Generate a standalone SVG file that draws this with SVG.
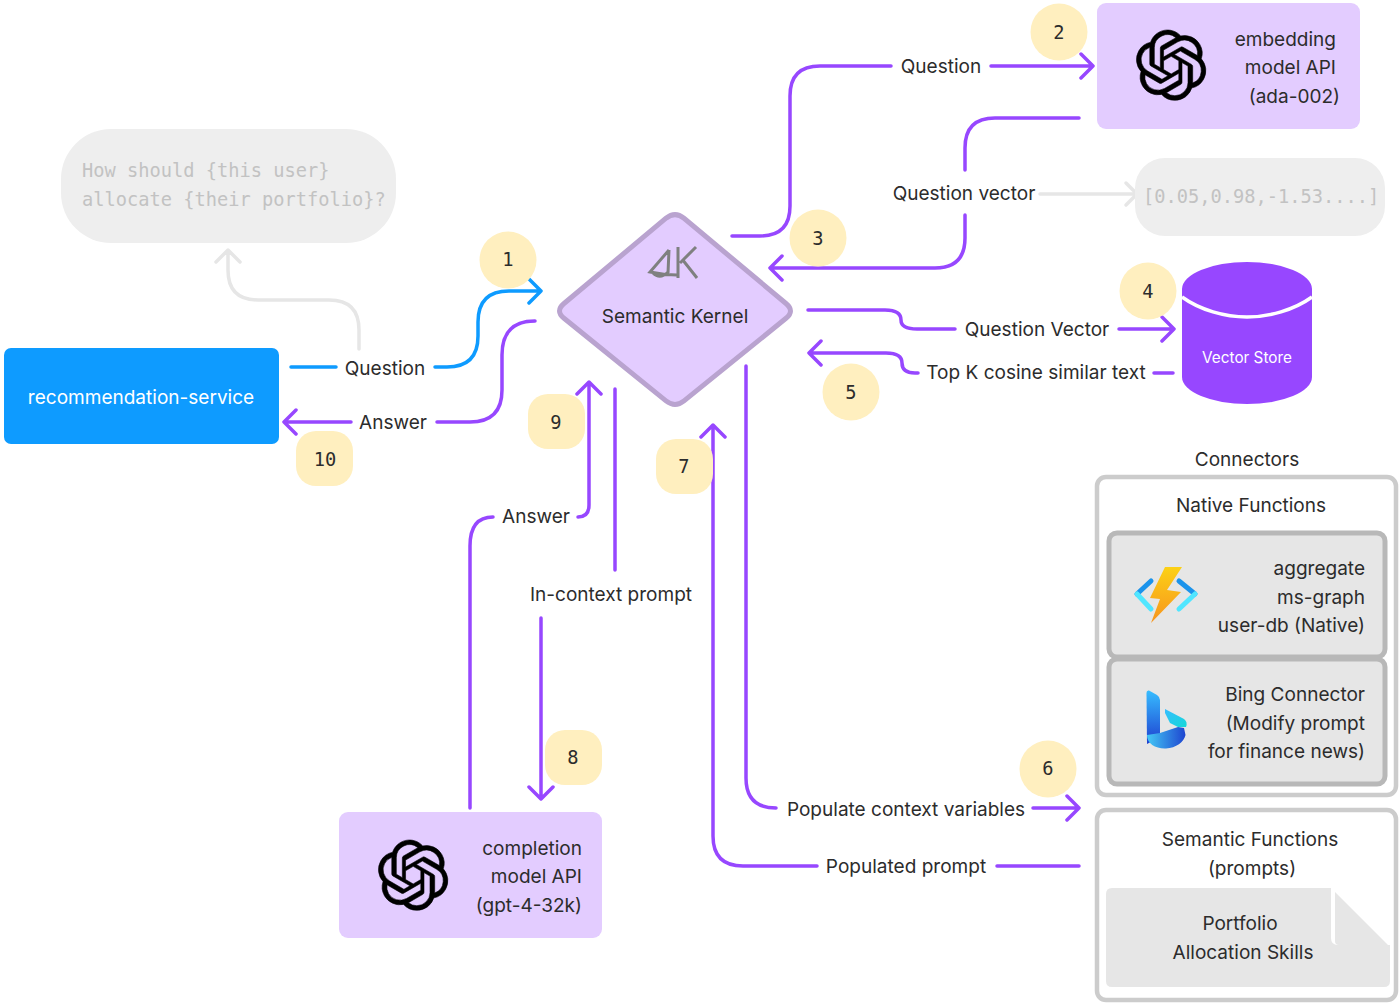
<svg xmlns="http://www.w3.org/2000/svg" width="1400" height="1004" viewBox="0 0 1400 1004">
<style>
text{font-family:Inter,"Noto Sans","Liberation Sans",sans-serif;font-size:19.05px;fill:#2c2c2c}
.m{font-family:"DejaVu Sans Mono","Liberation Mono",monospace;font-size:18.7px}
.g{fill:#c2c2c2}
.e{text-anchor:end}.c{text-anchor:middle}
.p,.b,.y{fill:none;stroke-width:3.5;stroke-linecap:round;stroke-linejoin:round}
.p{stroke:#9747ff}.b{stroke:#0e9bff}.y{stroke:#e6e6e6}
.api{fill:#e3ccff}.bd{fill:#ffefbf}
.o{fill:#fff;stroke:#ccc;stroke-width:4.5}
.i{fill:#e6e6e6;stroke:#b8b8b8;stroke-width:5}
.oai{stroke:#000;stroke-width:.2}
</style>
<defs>
<path id="oa" class="oai" transform="scale(2.93)" d="M22.2819 9.8211a5.9847 5.9847 0 0 0-.5157-4.9108 6.0462 6.0462 0 0 0-6.5098-2.9A6.0651 6.0651 0 0 0 4.9807 4.1818a5.9847 5.9847 0 0 0-3.9977 2.9 6.0462 6.0462 0 0 0 .7427 7.0966 5.98 5.98 0 0 0 .511 4.9107 6.051 6.051 0 0 0 6.5146 2.9001A5.9847 5.9847 0 0 0 13.2599 24a6.0557 6.0557 0 0 0 5.7718-4.2058 5.9894 5.9894 0 0 0 3.9977-2.9001 6.0557 6.0557 0 0 0-.7475-7.0729zm-9.022 12.6081a4.4755 4.4755 0 0 1-2.8764-1.0408l.1419-.0804 4.7783-2.7582a.7948.7948 0 0 0 .3927-.6813v-6.7369l2.02 1.1686a.071.071 0 0 1 .038.052v5.5826a4.504 4.504 0 0 1-4.4945 4.4944zm-9.6607-4.1254a4.4708 4.4708 0 0 1-.5346-3.0137l.142.0852 4.783 2.7582a.7712.7712 0 0 0 .7806 0l5.8428-3.3685v2.3324a.0804.0804 0 0 1-.0332.0615L9.74 19.9502a4.4992 4.4992 0 0 1-6.1408-1.6464zM2.3408 7.8956a4.485 4.485 0 0 1 2.3655-1.9728V11.6a.7664.7664 0 0 0 .3879.6765l5.8144 3.3543-2.0201 1.1685a.0757.0757 0 0 1-.071 0l-4.8303-2.7865A4.504 4.504 0 0 1 2.3408 7.872zm16.5963 3.8558L13.1038 8.364 15.1192 7.2a.0757.0757 0 0 1 .071 0l4.8303 2.7913a4.4944 4.4944 0 0 1-.6765 8.1042v-5.6772a.79.79 0 0 0-.407-.667zm2.0107-3.0231l-.142-.0852-4.7735-2.7818a.7759.7759 0 0 0-.7854 0L9.409 9.2297V6.8974a.0662.0662 0 0 1 .0284-.0615l4.8303-2.7866a4.4992 4.4992 0 0 1 6.6802 4.66zM8.3065 12.863l-2.02-1.1638a.0804.0804 0 0 1-.038-.0567V6.0742a4.4992 4.4992 0 0 1 7.3757-3.4537l-.142.0805L8.704 5.459a.7948.7948 0 0 0-.3927.6813zm1.0976-2.3654l2.602-1.4998 2.6069 1.4998v2.9994l-2.5974 1.4997-2.6067-1.4997Z"/>
<linearGradient id="bolt" x1="0" y1="0" x2="0" y2="1"><stop offset="0" stop-color="#fcd116"/><stop offset="1" stop-color="#f7941d"/></linearGradient>
<linearGradient id="bing1" x1="0" y1="0" x2="0" y2="1"><stop offset="0" stop-color="#37bdff"/><stop offset="1" stop-color="#1e3fd0"/></linearGradient>
<linearGradient id="bing2" x1="0" y1="0" x2="1" y2="0"><stop offset="0" stop-color="#44c8f5"/><stop offset="1" stop-color="#1e45d0"/></linearGradient>
<linearGradient id="bing3" x1="0" y1="0" x2="1" y2="1"><stop offset="0" stop-color="#37bdff"/><stop offset="1" stop-color="#14d8d8"/></linearGradient>
</defs>
<g id="connectors">
<path class="y" d="M359 349V330Q359 300 329 300H258Q228 300 228 270V250M216 262L228 250L240 262"/>
<path class="y" d="M1040 194H1137M1126 183L1137 194L1126 205"/>
<path class="b" d="M291 367H336M435 367H447Q478 367 478 336V322Q478 291 509 291H541M529 279L541 291L529 303"/>
<path class="p" d="M535 321Q502 321 502 355V390Q502 422 470 422H437M351 422H284M296 410L284 422L296 434"/>
<path class="p" d="M732 236H760Q790 236 790 206V96Q790 66 820 66H891M991 66H1093M1081 54L1093 66L1081 78"/>
<path class="p" d="M1079 118H995Q965 118 965 148V170M965 215V238Q965 268 935 268H770M782 256L770 268L782 280"/>
<path class="p" d="M808 310H885Q901 310 901 320Q901 329 917 329H955M1119 329H1174M1162 317L1174 329L1162 341"/>
<path class="p" d="M918 373H915Q902 373 902 363Q902 353 886 353H809M821 341L809 353L821 365M1154 373H1173"/>
<path class="p" d="M470 808V546Q470 517 493 517M578 517Q589 517 589 505V382M577 394L589 382L601 394"/>
<path class="p" d="M615 389V570M541 618V799M529 787L541 799L553 787"/>
<path class="p" d="M746 366V778Q746 808 776 808M1033 808H1079M1067 796L1079 808L1067 820"/>
<path class="p" d="M817 866H743Q713 866 713 836V425M701 437L713 425L725 437M997 866H1079"/>
</g>
<g id="prompt-note"><rect x="61" y="129" width="335" height="114" rx="50" fill="#eee"/><text class="m g" x="82" y="177">How should {this user}</text><text class="m g" x="82" y="206">allocate {their portfolio}?</text></g>
<g id="recommendation-service"><rect x="4" y="348" width="275" height="96" rx="7" fill="#0e9bff"/><text class="c" x="141" y="404" style="fill:#fff">recommendation-service</text></g>
<g id="semantic-kernel"><path d="M666 218.200Q675 211 684 218.200L786 303.500Q795 311 786 318.300L684 400.900Q675 408 666 400.900L564 318.300Q555 311 564 303.500Z" fill="#e3ccff" stroke="#b9a3cf" stroke-width="5"/>
<path d="M669 250L650 272Q664 275 677 275M669 250L668 273M653 273Q660 280 668 272M678 247V278M696 247L680 263M682 259L697 278" fill="none" stroke="#7f8080" stroke-width="3"/>
<text class="c" x="675" y="323">Semantic Kernel</text></g>
<g id="embedding-api"><rect class="api" x="1097" y="3" width="263" height="126" rx="9"/><use href="#oa" x="1136" y="30"/><text class="e" x="1336" y="46">embedding</text><text class="e" x="1336" y="74">model API</text><text class="e" x="1340" y="103">(ada-002)</text></g>
<g id="vector-note"><rect x="1135" y="158" width="250" height="78" rx="30" fill="#eee"/><text class="m g" x="1143" y="203">[0.05,0.98,-1.53....]</text></g>
<g id="vector-store"><path d="M1182 289A65 27 0 0 1 1312 289V377A65 27 0 0 1 1182 377Z" fill="#9747ff"/><path d="M1182 297C1200 310 1225 317 1247 317C1269 317 1294 310 1312 297" fill="none" stroke="#fff" stroke-width="3.500"/><text class="c" x="1247" y="363" style="fill:#fff;font-size:15.300px">Vector Store</text></g>
<g id="completion-api"><rect class="api" x="339" y="812" width="263" height="126" rx="9"/><use href="#oa" x="378" y="840"/><text class="e" x="582" y="855">completion</text><text class="e" x="582" y="883">model API</text><text class="e" x="582" y="912">(gpt-4-32k)</text></g>
<g id="connectors-group"><text class="c" x="1247" y="466">Connectors</text>
<rect class="o" x="1097" y="477" width="299" height="318" rx="9"/><text class="c" x="1251" y="512">Native Functions</text>
<g id="native"><rect class="i" x="1109" y="533" width="276" height="124" rx="8"/>
<path d="M1151 581L1137 594" fill="none" stroke="#1b93eb" stroke-width="5" stroke-linecap="round"/><path d="M1137 594L1151 609" fill="none" stroke="#50e6ff" stroke-width="5" stroke-linecap="round"/>
<path d="M1179 581L1195 594" fill="none" stroke="#1b93eb" stroke-width="5" stroke-linecap="round"/><path d="M1195 594L1179 609" fill="none" stroke="#50e6ff" stroke-width="5" stroke-linecap="round"/>
<path d="M1165 567H1182L1167 590L1181 592L1151 623L1160 599L1150 598Z" fill="url(#bolt)"/>
<text class="e" x="1365" y="575">aggregate</text><text class="e" x="1365" y="604">ms-graph</text><text class="e" x="1365" y="632">user-db (Native)</text></g>
<g id="bing"><rect class="i" x="1109" y="659" width="276" height="125" rx="8"/>
<path d="M1146.500 693Q1146.500 690 1149 690.500L1157 695Q1160 697 1160 700V737L1147 744Z" fill="url(#bing1)"/>
<path d="M1147 735L1160 733L1178 727L1184 728L1185.500 735C1184 742 1176 748 1166 748.500C1156 749 1147 744 1147 735Z" fill="url(#bing2)"/>
<path d="M1165 709L1184 719Q1188 722 1186 727L1178 727L1170 723L1165 713Z" fill="url(#bing3)"/>
<text class="e" x="1365" y="701">Bing Connector</text><text class="e" x="1365" y="730">(Modify prompt</text><text class="e" x="1365" y="758">for finance news)</text></g></g>
<g id="semantic-functions"><rect class="o" x="1097" y="810" width="299" height="190" rx="9"/><text class="c" x="1250" y="846">Semantic Functions</text><text class="c" x="1252" y="875">(prompts)</text>
<path d="M1106 894Q1106 888 1112 888H1331V938Q1331 945 1338 945H1390V981Q1390 987 1384 987H1112Q1106 987 1106 981Z" fill="#e6e6e6"/><path d="M1335 892L1388 945H1339Q1335 945 1335 941Z" fill="#e6e6e6"/>
<text class="c" x="1240" y="930">Portfolio</text><text class="c" x="1243" y="959">Allocation Skills</text></g>
<g id="badge-1"><circle class="bd" cx="508" cy="260" r="28.500"/><text class="m c" x="508" y="266">1</text></g>
<g id="badge-2"><circle class="bd" cx="1059" cy="32" r="28.500"/><text class="m c" x="1059" y="39">2</text></g>
<g id="badge-3"><circle class="bd" cx="818" cy="238" r="28.500"/><text class="m c" x="818" y="245">3</text></g>
<g id="badge-4"><circle class="bd" cx="1148" cy="291" r="28.500"/><text class="m c" x="1148" y="298">4</text></g>
<g id="badge-5"><circle class="bd" cx="851" cy="392" r="28.500"/><text class="m c" x="851" y="399">5</text></g>
<g id="badge-6"><circle class="bd" cx="1048" cy="769" r="28.500"/><text class="m c" x="1048" y="775">6</text></g>
<g id="badge-7"><rect class="bd" x="656" y="439" width="57" height="55" rx="20"/><text class="m c" x="684" y="473">7</text></g>
<g id="badge-8"><rect class="bd" x="545" y="730" width="57" height="55" rx="20"/><text class="m c" x="573" y="764">8</text></g>
<g id="badge-9"><rect class="bd" x="528" y="394" width="57" height="55" rx="20"/><text class="m c" x="556" y="429">9</text></g>
<g id="badge-10"><rect class="bd" x="296" y="431" width="57" height="55" rx="20"/><text class="m c" x="325" y="466">10</text></g>
<g id="labels">
<text class="c" x="385" y="375">Question</text><text class="c" x="393" y="429">Answer</text>
<text class="c" x="941" y="73">Question</text><text class="c" x="964" y="200">Question vector</text>
<text class="c" x="1037" y="336">Question Vector</text><text class="c" x="1036" y="379">Top K cosine similar text</text>
<text class="c" x="536" y="523">Answer</text><text class="c" x="611" y="601">In-context prompt</text>
<text class="c" x="906" y="816">Populate context variables</text><text class="c" x="906" y="873">Populated prompt</text>
</g>
</svg>
